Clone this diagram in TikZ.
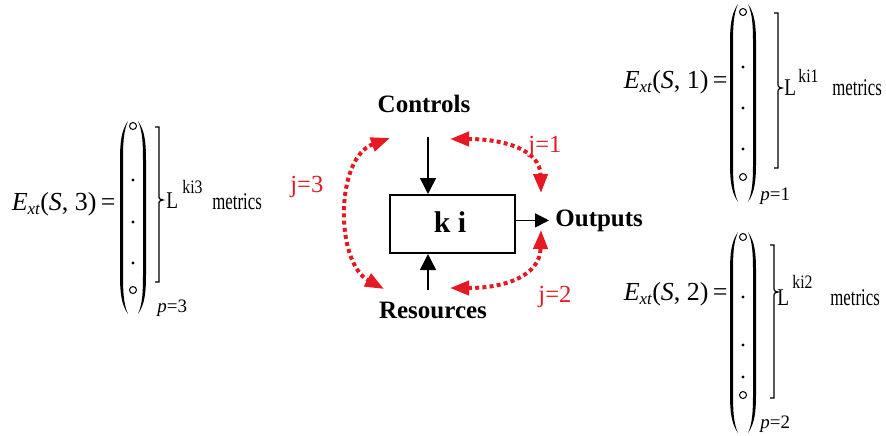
\documentclass[tikz,border=0pt]{standalone}
\usepackage{fontspec}
\setmainfont{Liberation Serif}
\usepackage{tikz}
\usetikzlibrary{arrows.meta}
\definecolor{jred}{RGB}{230,25,35}

% narrow text, as in the metric labels
\newcommand{\narrow}[2]{\scalebox{#1}[1]{#2}}
% E_xt(S,k)=
\newcommand{\extlabel}[1]{\textit{E}\raisebox{-2pt}{\fontsize{8.5}{10}\selectfont\textit{xt}}(\textit{S}, #1)\,=}
% tall parentheses: centre x, top y, bottom y
\newcommand{\vecparens}[3]{%
    \fill (#1-5,#2) .. controls (#1-12,#2+10) and (#1-13,#2+22) .. (#1-13,#2+40)
        -- (#1-13,#3-40) .. controls (#1-13,#3-22) and (#1-12,#3-10) .. (#1-5,#3)
        .. controls (#1-9.5,#3-10) and (#1-10,#3-22) .. (#1-10,#3-40)
        -- (#1-10,#2+40) .. controls (#1-10,#2+22) and (#1-9.5,#2+10) .. (#1-5,#2);
    \fill (#1+5,#2) .. controls (#1+12,#2+10) and (#1+13,#2+22) .. (#1+13,#2+40)
        -- (#1+13,#3-40) .. controls (#1+13,#3-22) and (#1+12,#3-10) .. (#1+5,#3)
        .. controls (#1+9.5,#3-10) and (#1+10,#3-22) .. (#1+10,#3-40)
        -- (#1+10,#2+40) .. controls (#1+10,#2+22) and (#1+9.5,#2+10) .. (#1+5,#2);
}
% side bracket: x, top y, tip y, bottom y
\newcommand{\sidebracket}[4]{%
    \draw[line width=0.6pt] (#1-4,#2) -- (#1,#2) -- (#1,#3-5)
        .. controls (#1,#3-1) .. (#1+4,#3) .. controls (#1,#3+1) .. (#1,#3+5)
        -- (#1,#4) -- (#1-4,#4);
}

\begin{document}
\begin{tikzpicture}[x=0.5pt,y=-0.5pt,
    lbl/.style={font=\fontsize{12.5}{15}\selectfont\bfseries, inner sep=0pt},
    jlbl/.style={font=\rmfamily\fontsize{12.3}{15}\selectfont, text=jred, inner sep=0pt, anchor=base west},
    eqn/.style={font=\fontsize{13}{16}\selectfont, inner sep=0pt, anchor=base east},
    Lsty/.style={font=\fontsize{12}{14}\selectfont, inner sep=0pt, anchor=base west},
    supsty/.style={font=\fontsize{9.5}{11}\selectfont, inner sep=0pt, anchor=base west},
    metsty/.style={font=\fontsize{12}{14}\selectfont, inner sep=0pt, anchor=base west},
    psty/.style={font=\fontsize{9.5}{11}\selectfont, inner sep=0pt, anchor=base west},
    blk/.style={line width=0.7pt, -{Triangle[length=8pt,width=8pt]}},
    jarrow/.style={jred, line width=2pt, dash pattern=on 2pt off 1.6pt,
        {Triangle[length=9.5pt,width=7pt]}-{Triangle[length=9.5pt,width=7pt]}},
    hole/.style={line width=0.5pt},
  ]
    \useasboundingbox (0,0) rectangle (886,435);

    % Activity box
    \node[draw, line width=1pt, minimum width=62.5pt, minimum height=29pt, inner sep=0pt]
        (box) at (452.5,224) {};
    \node[font=\fontsize{15}{18}\selectfont\bfseries, inner sep=0pt, anchor=base]
        (ki) at (450,232) {k i};
    \node[lbl, anchor=base] (ctrl) at (424,112) {Controls};
    \node[lbl, anchor=base] (res) at (433,318) {Resources};
    \node[lbl, anchor=base west, inner sep=3pt] (outs) at (549,226) {Outputs};
    \coordinate (ctrlfoot) at (428,137);
    \coordinate (resfoot) at (428,290);
    \draw[blk] (ctrlfoot) -- (box.north -| ctrlfoot);
    \draw[blk] (resfoot) -- (box.south -| resfoot);
    \draw[line width=0.7pt, -{Triangle[length=7pt,width=7pt]}] (box.east |- outs.west) -- (outs.west);

    % Feedback loops
    \coordinate (j1a) at (450,139);
    \coordinate (j1b) at (541,193);
    \coordinate (j2a) at (450,288);
    \coordinate (j2b) at (541,230);
    \coordinate (j3a) at (390,138);
    \coordinate (j3b) at (384,289);
    \draw[jarrow] (j1a) .. controls (505,139) and (540,150) .. (j1b);
    \draw[jarrow] (j2a) .. controls (505,288) and (540,276) .. (j2b);
    \draw[jarrow] (j3a) .. controls (335,158) and (335,262) .. (j3b);
    \node[jlbl] (j1) at (528,152) {j=1};
    \node[jlbl] (j2) at (538,302) {j=2};
    \node[jlbl] (j3) at (290,192) {j=3};

    % Vector for j=3
    \node[eqn] (e3) at (116,210) {\extlabel{3}};
    \vecparens{133}{121}{314}
    \draw[hole] (133,126) circle (1.75pt);
    \draw[hole] (133,290) circle (1.75pt);
    \foreach \y in {180,222,263}
        \fill (133,\y) circle (0.85pt);
    \sidebracket{159}{127}{200}{282}
    \node[Lsty] (L3) at (166,208) {\narrow{0.8}{L}};
    \node[supsty] (k3) at (182,193) {\narrow{0.83}{ki3}};
    \node[metsty] (m3) at (212,209) {\narrow{0.7}{metrics}};
    \node[psty] (p3) at (157,312) {\textit{p}=3};

    % Vector for j=1
    \node[eqn] (e1) at (728,88) {\extlabel{1}};
    \vecparens{743}{4}{202}
    \draw[hole] (743,12) circle (1.75pt);
    \draw[hole] (743,177) circle (1.75pt);
    \foreach \y in {67,108,149}
        \fill (743,\y) circle (0.85pt);
    \sidebracket{778}{13}{88}{168}
    \node[Lsty] (L1) at (784,95) {\narrow{0.8}{L}};
    \node[supsty] (k1) at (798,82) {\narrow{0.83}{ki1}};
    \node[metsty] (m1) at (832,95) {\narrow{0.7}{metrics}};
    \node[psty] (p1) at (760,200) {\textit{p}=1};

    % Vector for j=2
    \node[eqn] (e2) at (728,300) {\extlabel{2}};
    \vecparens{743}{232}{433}
    \draw[hole] (743,237) circle (1.75pt);
    \draw[hole] (743,395) circle (1.75pt);
    \foreach \y in {297,345,377}
        \fill (743,\y) circle (0.85pt);
    \sidebracket{774}{245}{292}{398}
    \node[Lsty] (L2) at (777,305) {\narrow{0.8}{L}};
    \node[supsty] (k2) at (792,288) {\narrow{0.83}{ki2}};
    \node[metsty] (m2) at (830,305) {\narrow{0.7}{metrics}};
    \node[psty] (p2) at (760,428) {\textit{p}=2};
\end{tikzpicture}
\end{document}
